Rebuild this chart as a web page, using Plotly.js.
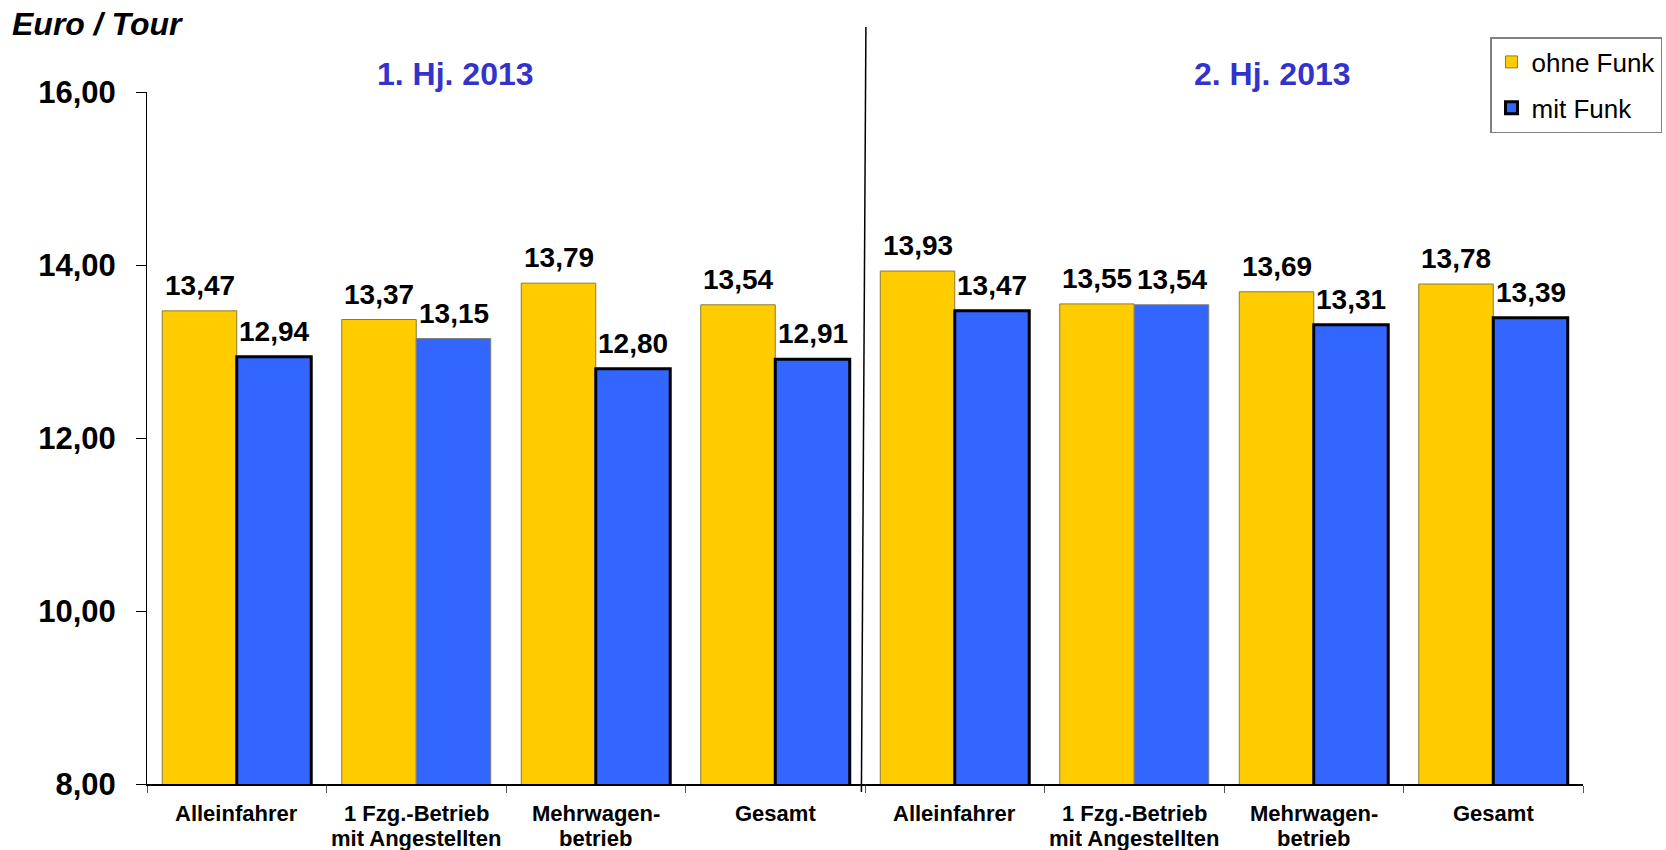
<!DOCTYPE html>
<html>
<head>
<meta charset="utf-8">
<script src="https://cdn.plot.ly/plotly-3.0.1.min.js"></script>
<style>
  html, body { margin: 0; padding: 0; background: #ffffff; }
  #chart { width: 1666px; height: 850px; }
</style>
</head>
<body>
<div id="chart"></div>
<script>
// Categories: four business types per half-year
const categories = [
  'Alleinfahrer', '1 Fzg.-Betrieb<br>mit Angestellten', 'Mehrwagen-<br>betrieb', 'Gesamt',
  'Alleinfahrer', '1 Fzg.-Betrieb<br>mit Angestellten', 'Mehrwagen-<br>betrieb', 'Gesamt'
];
const periods = ['1. Hj. 2013', '2. Hj. 2013'];
const seriesNames = ['ohne Funk', 'mit Funk'];

// Euro per tour
const ohneFunk = [13.47, 13.37, 13.79, 13.54, 13.93, 13.55, 13.69, 13.78];
const mitFunk  = [12.94, 13.15, 12.80, 12.91, 13.47, 13.54, 13.31, 13.39];

const yTicks = [8, 10, 12, 14, 16];

const fontFamily = 'Arial, "Liberation Sans", Helvetica, sans-serif';
const yellow = '#FFCC00';
const blue = '#3366FF';
const bargap = 0.17;

const W = 1666, H = 850;
const margin = { l: 147, r: 83, t: 92, b: 66, pad: 0, autoexpand: false };
const plotW = W - margin.l - margin.r;
const plotH = H - margin.t - margin.b;
// pixel row (from top of page) -> paper y
const py = yp => (H - margin.b - yp) / plotH;
// pixel column (from left of page) -> paper x
const px = xp => (xp - margin.l) / plotW;

const xs = categories.map((_, i) => i);
const fmt = v => v.toFixed(2).replace('.', ',');

// blue bars carry a heavy black outline, except the single-vehicle firms
const blueLineW = categories.map(c => c.startsWith('1 Fzg') ? 1 : 3);
const blueLineC = categories.map(c => c.startsWith('1 Fzg') ? '#7f7f7f' : '#000000');

const traces = [
  {
    type: 'bar', name: seriesNames[0], x: xs, y: ohneFunk,
    marker: { color: yellow, line: { color: '#8a7a3a', width: 1 } },
    legendgroup: 'a', hoverinfo: 'skip'
  },
  {
    type: 'bar', name: seriesNames[1], x: xs, y: mitFunk,
    marker: { color: blue, line: { color: blueLineC, width: blueLineW } },
    legendgroup: 'b', hoverinfo: 'skip'
  }
];

const labelFont = { family: fontFamily, size: 28, color: '#000', weight: 'bold' };
const annotations = [];

// value labels above each bar
const half = (1 - bargap) / 4;
ohneFunk.forEach((v, i) => annotations.push({
  x: i - half, y: v, xref: 'x', yref: 'y', text: fmt(v), showarrow: false,
  yanchor: 'bottom', yshift: 8, font: labelFont
}));
mitFunk.forEach((v, i) => annotations.push({
  x: i + half, y: v, xref: 'x', yref: 'y', text: fmt(v), showarrow: false,
  yanchor: 'bottom', yshift: 8, font: labelFont
}));

// category labels under the axis, one annotation per line for tight spacing
categories.forEach((c, i) => {
  c.split('<br>').forEach((line, k) => annotations.push({
    x: i, y: py(813 + 25 * k), xref: 'x', yref: 'paper', text: line,
    showarrow: false, xanchor: 'center', yanchor: 'middle',
    font: { family: fontFamily, size: 22, color: '#000', weight: 'bold' }
  }));
});

// half-year headings
[455, 1272].forEach((xp, k) => annotations.push({
  x: px(xp), y: py(74), xref: 'paper', yref: 'paper', text: periods[k],
  showarrow: false, xanchor: 'center', yanchor: 'middle',
  font: { family: fontFamily, size: 32, color: '#3333CC', weight: 'bold' }
}));

// unit label
annotations.push({
  x: px(10), y: py(24), xref: 'paper', yref: 'paper', text: '<i>Euro / Tour</i>',
  showarrow: false, xanchor: 'left', yanchor: 'middle',
  font: { family: fontFamily, size: 32, color: '#000', weight: 'bold' }
});

// divider between the two half-years
const mid = categories.length / 2 - 0.5;
const shapes = [{
  type: 'line', xref: 'x', yref: 'paper',
  x0: mid - 0.02, x1: mid + 0.005,
  y0: py(792), y1: py(27),
  line: { color: '#000000', width: 1.5 }
}];

const layout = {
  width: W, height: H,
  margin: margin,
  paper_bgcolor: '#ffffff', plot_bgcolor: '#ffffff',
  barmode: 'group', bargap: bargap, bargroupgap: 0,
  separators: ',.',
  font: { family: fontFamily, color: '#000' },
  showlegend: true,
  legend: {
    x: px(1490), y: py(37),
    xanchor: 'left', yanchor: 'top',
    bgcolor: '#ffffff', bordercolor: '#808080', borderwidth: 1.5,
    font: { family: fontFamily, size: 26, color: '#000' },
    tracegroupgap: 9, traceorder: 'grouped'
  },
  xaxis: {
    range: [-0.5, categories.length - 0.5],
    tickvals: xs, showticklabels: false,
    ticks: '', showgrid: false, zeroline: false,
    showline: true, linecolor: '#000', linewidth: 1.5,
    minor: { tick0: -0.5, dtick: 1, ticks: 'outside', ticklen: 7, tickcolor: '#555', tickwidth: 1, showgrid: false },
    fixedrange: true
  },
  yaxis: {
    range: [8, 16], tickvals: yTicks, tickformat: '.2f',
    ticks: 'outside', ticklen: 10, tickcolor: '#000', tickwidth: 1,
    showgrid: false, zeroline: false,
    showline: true, linecolor: '#000', linewidth: 1,
    tickfont: { family: fontFamily, size: 31, color: '#000', weight: 'bold' },
    ticklabelstandoff: 14,
    fixedrange: true
  },
  annotations: annotations,
  shapes: shapes
};

Plotly.newPlot('chart', traces, layout, { staticPlot: true, displayModeBar: false });
</script>
</body>
</html>
